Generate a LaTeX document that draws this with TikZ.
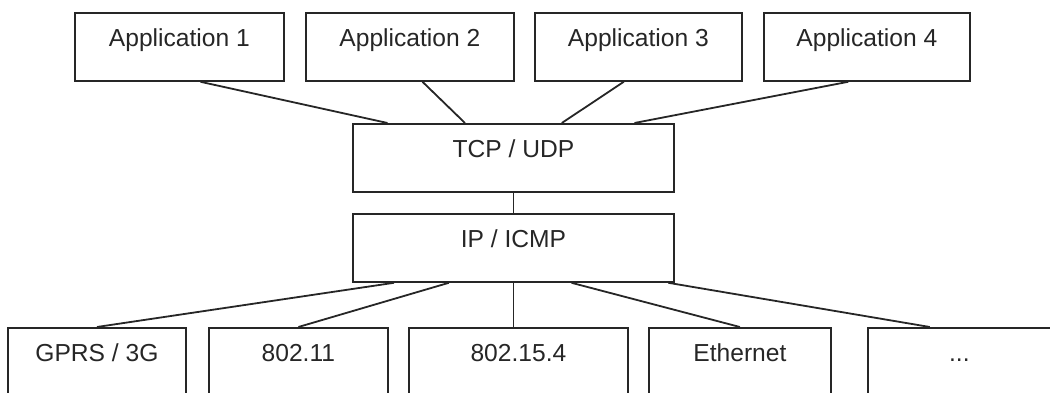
\documentclass[tikz,border=0pt]{standalone}
\usepackage{fontspec}
\setmainfont{Liberation Sans}
\usetikzlibrary{calc}
\tikzset{
  layer/.style={draw=black!85, line width=1.8pt, inner sep=0pt, anchor=north west,
    text height=34pt, text depth=34pt, text=black!85,
    font=\fontsize{24.6}{30}\selectfont},
  link/.style={draw=black!85, line width=1.8pt}
}
\begin{document}
\begin{tikzpicture}[x=1pt,y=-1pt]
\clip (0,0) rectangle (1050,393);
\node (app1) [layer, minimum width=209pt] at (74,12) {Application 1};
\node (app2) [layer, minimum width=208pt] at (305,12) {Application 2};
\node (app3) [layer, minimum width=207pt] at (534,12) {Application 3};
\node (app4) [layer, minimum width=206pt] at (763,12) {Application 4};
\node (tcp) [layer, minimum width=321pt] at (352,123) {TCP / UDP};
\node (ip) [layer, minimum width=321pt] at (352,213) {IP / ICMP};
\node (gprs) [layer, minimum width=178pt] at (7,327) {GPRS / 3G};
\node (wifi) [layer, minimum width=179pt] at (208,327) {802.11};
\node (lowpan) [layer, minimum width=219pt] at (408,327) {802.15.4};
\node (eth) [layer, minimum width=182pt] at (648,327) {Ethernet};
\node (more) [layer, minimum width=183pt] at (867,327) {...};
\draw [link] ($(app1.south west)!.6!(app1.south east)$) -- ($(tcp.north west)!.11!(tcp.north east)$);
\draw [link] ($(app2.south west)!.56!(app2.south east)$) -- ($(tcp.north west)!.35!(tcp.north east)$);
\draw [link] ($(app3.south west)!.43!(app3.south east)$) -- ($(tcp.north west)!.65!(tcp.north east)$);
\draw [link] ($(app4.south west)!.41!(app4.south east)$) -- ($(tcp.north west)!.875!(tcp.north east)$);
\draw [link] (tcp.south) -- (ip.north);
\draw [link] ($(ip.south west)!.13!(ip.south east)$) -- (gprs.north);
\draw [link] ($(ip.south west)!.3!(ip.south east)$) -- (wifi.north);
\draw [link] (ip.south) -- (ip.south |- lowpan.north);
\draw [link] ($(ip.south west)!.68!(ip.south east)$) -- (eth.north);
\draw [link] ($(ip.south west)!.98!(ip.south east)$) -- ($(more.north west)!.34!(more.north east)$);
\end{tikzpicture}
\end{document}
